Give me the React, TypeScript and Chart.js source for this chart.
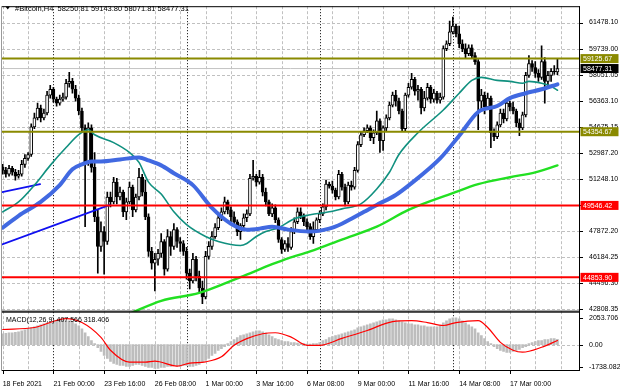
import React, { useEffect, useRef } from 'react';
import { Chart, registerables } from 'chart.js';

Chart.register(...registerables);

// ---------------- DATA ----------------
const symbolName = '#Bitcoin,H4';
const macdName = 'MACD(12,26,9)';

const opens = [
  52031, 51837, 51579, 51966, 51708, 51450, 51579, 52224, 52611, 52869,
  54675, 55256, 55901, 55256, 55578, 56739, 57126, 56481, 56223, 56481,
  56610, 57513, 57642, 57126, 56546, 55707, 54611, 52353, 54611, 52031,
  48806, 46871, 47838, 47193, 50096, 49773, 51063, 50096, 50418, 49128,
  49773, 50741, 49257, 50096, 51386, 50418, 48806, 46548, 45774, 46032,
  46419, 47193, 45387, 47516, 46871, 47967, 47193, 47064, 46548, 45129,
  44613, 46032, 44936, 44162, 43581, 46226, 46871, 47516, 48096, 48741,
  49128, 49773, 49257, 48806, 48483, 47838, 48225, 48741, 48999, 51321,
  51450, 51063, 51386, 50418, 49773, 48999, 49386, 48612, 47322, 46677,
  47064, 46806, 47838, 48483, 49128, 48870, 48483, 48161, 47516, 47967,
  48612, 48999, 49451, 50934, 50805, 50547, 50096, 51579, 50741, 49773,
  50870, 50741, 51837, 53514, 54159, 54417, 54611, 53966, 54288, 55062,
  53772, 54611, 55256, 56094, 56739, 56352, 55707, 54546, 56739, 57255,
  57771, 56997, 57126, 55901, 56546, 57255, 56481, 56868, 56417, 56610,
  59771, 60093, 60867, 61254, 60738, 60093, 59771, 59448, 59835, 59319,
  58932, 56352, 56739, 55965, 56546, 54288, 54030, 54804, 55578, 55191,
  56223, 55965, 55707, 54933, 54611, 55449, 58029, 58803, 58545, 58158,
  57900, 58932, 57642, 58029, 58287, 58250.81,
];
const highs = [
  52224, 52031, 52160, 52095, 51902, 51837, 52482, 52869, 52998, 54869,
  55578, 56223, 56094, 55836, 56997, 57384, 57255, 56610, 56739, 56868,
  57771, 58223, 57836, 57384, 56739, 55901, 54804, 54933, 54804, 52998,
  49257, 48483, 48161, 50418, 50418, 51386, 51321, 50741, 50547, 50031,
  51063, 50870, 50289, 51966, 51579, 51192, 48999, 46806, 46419, 46677,
  47709, 47322, 47967, 47838, 48354, 48096, 47451, 47258, 46806, 45387,
  46419, 46226, 45258, 44613, 46548, 47193, 47838, 48354, 48999, 49386,
  50096, 49902, 49451, 49128, 48612, 48354, 48999, 49257, 51579, 52482,
  51579, 51837, 51579, 50676, 49902, 49644, 49580, 48741, 47451, 47258,
  47451, 48096, 48741, 49386, 49386, 48999, 48677, 48354, 48483, 48741,
  49193, 49644, 51192, 51063, 51128, 50676, 51837, 51708, 50934, 51063,
  51128, 52031, 53708, 54353, 54611, 54804, 54740, 54482, 55707, 55191,
  54740, 55449, 56288, 56933, 57062, 56546, 55836, 56868, 57513, 58158,
  57900, 57384, 57255, 56997, 57513, 57384, 57126, 56997, 56868, 59964,
  60287, 61576, 61835, 61383, 61254, 60351, 60093, 60029, 60029, 59513,
  59061, 57126, 56933, 56868, 56675, 54546, 54998, 55836, 55836, 56481,
  56352, 56288, 55836, 55191, 55643, 58223, 59319, 58997, 58932, 58416,
  59964, 59190, 58287, 58481, 58674, 59143.8,
];
const lows = [
  51579, 51386, 51450, 51515, 51192, 51321, 51450, 52031, 52482, 52740,
  54546, 55127, 54998, 55127, 55449, 56546, 56288, 56030, 56094, 56352,
  56481, 57255, 56868, 56352, 55449, 54417, 48161, 52160, 51708, 48483,
  45129, 46548, 45065, 47000, 49451, 49644, 49644, 49902, 48806, 48612,
  49644, 48806, 49128, 49902, 50160, 48612, 46226, 45387, 43968, 45645,
  46161, 45000, 45258, 46290, 46677, 46806, 46548, 46290, 44742, 44097,
  44484, 44613, 43839, 43130, 43452, 46032, 46677, 47387, 47967, 48548,
  48999, 48999, 48483, 48225, 47580, 47322, 48096, 48483, 48870, 51192,
  50805, 50934, 50160, 49515, 48870, 48806, 48419, 47129, 46419, 46548,
  46548, 46677, 47709, 48354, 48677, 48225, 47967, 47322, 47064, 47838,
  48419, 48870, 49257, 50676, 50354, 49902, 49967, 50547, 49515, 49644,
  50547, 50612, 51708, 53385, 54030, 54288, 53772, 53579, 54159, 52998,
  53127, 54417, 55127, 55965, 56030, 55514, 54353, 54417, 56610, 57126,
  56739, 56417, 55514, 55707, 56417, 56223, 56288, 56223, 56223, 56481,
  59642, 59964, 60738, 60545, 59835, 59577, 59190, 59319, 59190, 58739,
  54482, 55707, 55514, 55836, 53321, 53772, 53901, 54675, 54933, 55062,
  55707, 55514, 54675, 54095, 54482, 55320, 57900, 58287, 57900, 57642,
  57771, 56223, 57255, 57642, 58094, 58071.81,
];
const closes = [
  51837, 51579, 51966, 51708, 51450, 51579, 52224, 52611, 52869, 54675,
  55256, 55901, 55256, 55578, 56739, 57126, 56481, 56223, 56481, 56610,
  57513, 57642, 57126, 56546, 55707, 54611, 52353, 54611, 52031, 48806,
  46871, 47838, 47193, 50096, 49773, 51063, 50096, 50418, 49128, 49773,
  50741, 49257, 50096, 51386, 50418, 48806, 46548, 45774, 46032, 46419,
  47193, 45387, 47516, 46871, 47967, 47193, 47064, 46548, 45129, 44613,
  46032, 44936, 44162, 43581, 46226, 46871, 47516, 48096, 48741, 49128,
  49773, 49257, 48806, 48483, 47838, 48225, 48741, 48999, 51321, 51450,
  51063, 51386, 50418, 49773, 48999, 49386, 48612, 47322, 46677, 47064,
  46806, 47838, 48483, 49128, 48870, 48483, 48161, 47516, 47967, 48612,
  48999, 49451, 50934, 50805, 50547, 50096, 51579, 50741, 49773, 50870,
  50741, 51837, 53514, 54159, 54417, 54611, 53966, 54288, 55062, 53772,
  54611, 55256, 56094, 56739, 56352, 55707, 54546, 56739, 57255, 57771,
  56997, 57126, 55901, 56546, 57255, 56481, 56868, 56417, 56610, 59771,
  60093, 60867, 61254, 60738, 60093, 59771, 59448, 59835, 59319, 58932,
  56352, 56739, 55965, 56546, 54288, 54030, 54804, 55578, 55191, 56223,
  55965, 55707, 54933, 54611, 55449, 58029, 58803, 58545, 58158, 57900,
  58932, 57642, 58029, 58287, 58250.81, 58477.31,
];

// moving averages (bar index -> value)
const maFastBars = [0, 5, 10, 15, 20, 24, 27, 29, 35, 40, 43, 46, 50, 54, 58, 64, 68, 75, 77, 80, 83, 87, 92, 97, 103, 107, 113, 118, 122, 125, 131, 139, 144, 148, 151, 156, 160, 164, 166, 170, 173, 175];
const maFastValues = [49128, 49773, 50870, 52160, 53321, 54159, 54482, 54159, 53643, 52998, 52353, 51063, 50289, 49128, 48290, 47516, 47193, 46935, 47064, 47516, 47838, 48096, 48677, 48934, 49128, 49322, 49644, 50612, 51708, 52869, 54288, 55772, 56868, 57707, 57900, 57707, 57642, 57513, 57642, 57513, 57320, 57062];
const maMidBars = [0, 5, 12, 18, 22, 25, 28, 31, 37, 43, 46, 50, 54, 60, 66, 72, 77, 81, 85, 90, 97, 103, 107, 110, 114, 118, 124, 129, 138, 144, 150, 156, 160, 165, 170, 175];
const maMidValues = [48096, 48870, 49773, 50870, 51902, 52224, 52418, 52418, 52547, 52676, 52482, 52160, 51644, 50870, 49386, 48354, 47967, 48032, 48161, 47967, 47838, 48032, 48354, 48677, 49128, 49580, 50225, 51000, 52611, 54095, 55643, 56030, 56546, 56868, 57126, 57449];
const maSlowBars = [40, 50, 62, 75, 85, 90, 97, 107, 118, 128, 142, 150, 160, 168, 175];
const maSlowValues = [42484, 43323, 43839, 44871, 45710, 46097, 46548, 47322, 48161, 49257, 50354, 50934, 51386, 51708, 52160];

// trend lines
const trendUpperBars = [-0.2, 11.8];
const trendUpperValues = [50418, 50934];
const trendLowerBars = [-0.2, 33.8];
const trendLowerValues = [47000, 49580];

// horizontal levels
const resistanceLevels = [59125.67, 54354.67];
const supportLevels = [49546.42, 44853.9];
const bidPrice = 58477.31;

// MACD
const macdHist = [
  851, 890, 929, 929, 968, 1006, 1084, 1161, 1238, 1316,
  1393, 1471, 1548, 1625, 1703, 1703, 1780, 1858, 1858, 1935,
  1858, 1858, 1780, 1625, 1471, 1238, 929, 619, 310, 77,
  -232, -542, -851, -1084, -1316, -1471, -1548, -1625, -1625, -1703,
  -1703, -1625, -1548, -1548, -1625, -1703, -1780, -1780, -1858, -1858,
  -1780, -1780, -1703, -1703, -1625, -1703, -1703, -1625, -1625, -1703,
  -1703, -1625, -1548, -1393, -1238, -1084, -851, -697, -464, -310,
  -155, 77, 232, 387, 542, 697, 774, 851, 929, 1006,
  1084, 1084, 1006, 929, 774, 619, 464, 387, 310, 232,
  232, 155, 155, 116, 77, 77, 39, 39, 77, 77,
  155, 310, 387, 542, 619, 697, 774, 851, 929, 1006,
  1084, 1161, 1316, 1393, 1471, 1548, 1625, 1703, 1780, 1858,
  1935, 1935, 2012, 2012, 1935, 1858, 1780, 1703, 1625, 1625,
  1548, 1548, 1471, 1471, 1393, 1393, 1393, 1393, 1471, 1703,
  1858, 2012, 2090, 2090, 2012, 1858, 1703, 1548, 1393, 1238,
  929, 697, 464, 232, 77, -155, -310, -464, -542, -619,
  -619, -542, -464, -387, -232, -155, 77, 155, 232, 310,
  310, 387, 387, 464, 464, 407.566,
];
const signalBars = [0, 10, 20, 25, 31, 34, 40, 45, 48, 55, 59, 64, 69, 73, 77, 82, 86, 91, 96, 100, 107, 115, 123, 129, 134, 139, 143, 150, 153, 157, 161, 164, 170, 175];
const signalValues = [1184, 1339, 2036, 1726, 565, -441, -1370, -1370, -1293, -1680, -1447, -1347, -960, -54, 464, 851, 929, 588, -54, -54, 488, 1107, 1803, 1881, 1726, 1494, 1726, 1881, 1339, 178, -441, -596, -209, 318.406];

// axes
const priceTicks = [61478.1, 59739.0, 58051.05, 56363.1, 54675.15, 52987.2, 51248.1, 49560.15, 47872.2, 46184.25, 44496.3, 42808.35];
const macdTicks = [2053.706, 0, -1738.082];
const macdTickLabels = ['2053.706', '0.00', '-1738.082'];
const timeLabels = ['18 Feb 2021', '21 Feb 00:00', '23 Feb 16:00', '26 Feb 08:00', '1 Mar 00:00', '3 Mar 16:00', '6 Mar 08:00', '9 Mar 00:00', '11 Mar 16:00', '14 Mar 08:00', '17 Mar 00:00'];
const labelBars = [0, 16, 32, 48, 64, 80, 96, 112, 128, 144, 160];
const weekSeparatorBars = [16, 58, 100, 142];

const FONT = "'Liberation Sans', Arial, sans-serif";

export default function App() {
  const canvasRef = useRef<HTMLCanvasElement | null>(null);

  useEffect(() => {
    const canvas = canvasRef.current;
    if (!canvas) return;

    const pts = (bars: number[], vals: number[]) => bars.map((b, i) => ({ x: b, y: vals[i] }));
    const lineDs = (data: any[], color: string, width: number, order: number, yAxisID = 'y', smooth = true): any => ({
      type: 'line',
      data,
      borderColor: color,
      backgroundColor: color,
      borderWidth: width,
      pointRadius: 0,
      pointHoverRadius: 0,
      fill: false,
      tension: 0,
      cubicInterpolationMode: smooth ? 'monotone' : 'default',
      borderCapStyle: 'round',
      borderJoinStyle: 'round',
      xAxisID: 'x',
      yAxisID,
      order,
    });
    const levelDs = (v: number, color: string, width: number, order: number) =>
      lineDs([{ x: -5, y: v }, { x: 190, y: v }], color, width, order, 'y', false);

    const n = closes.length;
    const last = n - 1;
    const idx = closes.map((_, i) => i);

    const datasets: any[] = [
      levelDs(resistanceLevels[0], '#8a8a00', 2, 1),
      levelDs(resistanceLevels[1], '#8a8a00', 2, 1),
      levelDs(supportLevels[0], '#ff0000', 2, 1),
      levelDs(supportLevels[1], '#ff0000', 2, 1),
      lineDs(pts(maMidBars, maMidValues), '#4169e1', 4, 2),
      lineDs(pts(maFastBars, maFastValues), '#10907f', 1.6, 3),
      lineDs(pts(maSlowBars, maSlowValues), '#22e022', 2.4, 3),
      lineDs(pts(trendUpperBars, trendUpperValues), '#1010f0', 1.8, 3, 'y', false),
      lineDs(pts(trendLowerBars, trendLowerValues), '#1010f0', 1.8, 3, 'y', false),
      {
        type: 'bar',
        data: idx.map((i) => ({ x: i, y: [opens[i], closes[i]] })),
        backgroundColor: idx.map((i) => (closes[i] >= opens[i] ? '#ffffff' : '#000000')),
        borderColor: '#000000',
        borderWidth: 1,
        borderSkipped: false,
        barThickness: 3,
        grouped: false,
        xAxisID: 'x',
        yAxisID: 'y',
        order: 5,
      },
      {
        type: 'bar',
        data: idx.map((i) => ({ x: i, y: [lows[i], highs[i]] })),
        backgroundColor: '#000000',
        borderWidth: 0,
        barThickness: 1,
        grouped: false,
        xAxisID: 'x',
        yAxisID: 'y',
        order: 6,
      },
      levelDs(bidPrice, '#c4c4c4', 1, 7),
      lineDs(pts(signalBars, signalValues), '#ff0000', 1.2, 1, 'y2'),
      {
        type: 'bar',
        data: idx.map((i) => ({ x: i, y: macdHist[i] })),
        backgroundColor: '#bdbdbd',
        borderWidth: 0,
        barThickness: 2,
        grouped: false,
        xAxisID: 'x',
        yAxisID: 'y2',
        order: 8,
      },
    ];

    const gridBars = Array.from({ length: 23 }, (_, i) => i * 8);

    const overlay = {
      id: 'mt4overlay',
      beforeDatasetsDraw(chart: any) {
        const { ctx, chartArea, scales } = chart;
        const xS = scales.x;
        const yS = scales.y;
        const y2S = scales.y2;
        ctx.save();
        // grid
        ctx.strokeStyle = '#c0c0c0';
        ctx.lineWidth = 1;
        ctx.setLineDash([3, 2]);
        ctx.beginPath();
        for (const t of yS.ticks) {
          const py = Math.round(yS.getPixelForValue(t.value)) + 0.5;
          ctx.moveTo(chartArea.left, py);
          ctx.lineTo(chartArea.right, py);
        }
        {
          const py = Math.round(y2S.getPixelForValue(0)) + 0.5;
          ctx.moveTo(chartArea.left, py);
          ctx.lineTo(chartArea.right, py);
        }
        for (const t of xS.ticks) {
          if (weekSeparatorBars.indexOf(t.value) >= 0) continue;
          const px = Math.round(xS.getPixelForValue(t.value)) + 0.5;
          if (px < chartArea.left || px > chartArea.right) continue;
          ctx.moveTo(px, chartArea.top);
          ctx.lineTo(px, chartArea.bottom);
        }
        ctx.stroke();
        // weekly separators
        ctx.strokeStyle = '#000';
        ctx.setLineDash([1, 2]);
        ctx.beginPath();
        for (const b of weekSeparatorBars) {
          const px = Math.round(xS.getPixelForValue(b)) + 0.5;
          ctx.moveTo(px, chartArea.top);
          ctx.lineTo(px, chartArea.bottom);
        }
        ctx.stroke();
        ctx.restore();
      },
      afterDraw(chart: any) {
        const { ctx, chartArea, scales } = chart;
        const xS = scales.x;
        const yS = scales.y;
        const y2S = scales.y2;
        ctx.save();
        // frames
        ctx.lineWidth = 1;
        ctx.strokeStyle = '#000';
        ctx.beginPath();
        ctx.moveTo(chartArea.left, yS.top + 0.5);
        ctx.lineTo(chartArea.right + 1, yS.top + 0.5);
        ctx.moveTo(chartArea.right + 0.5, yS.top);
        ctx.lineTo(chartArea.right + 0.5, y2S.bottom);
        ctx.moveTo(chartArea.left, yS.bottom - 0.5);
        ctx.lineTo(chartArea.right + 1, yS.bottom - 0.5);
        ctx.moveTo(chartArea.left, yS.bottom + 0.5);
        ctx.lineTo(chartArea.right + 1, yS.bottom + 0.5);
        ctx.moveTo(chartArea.left, y2S.bottom - 0.5);
        ctx.lineTo(chartArea.right + 1, y2S.bottom - 0.5);
        // tick marks
        for (const t of yS.ticks) {
          const py = Math.round(yS.getPixelForValue(t.value)) + 0.5;
          ctx.moveTo(chartArea.right, py);
          ctx.lineTo(chartArea.right + 4, py);
        }
        for (const t of y2S.ticks) {
          const py = Math.round(y2S.getPixelForValue(t.value)) + 0.5;
          ctx.moveTo(chartArea.right, py);
          ctx.lineTo(chartArea.right + 4, py);
        }
        for (const b of labelBars) {
          const px = Math.round(xS.getPixelForValue(b)) + 0.5;
          ctx.moveTo(px, chartArea.bottom);
          ctx.lineTo(px, chartArea.bottom + 3);
        }
        ctx.stroke();
        ctx.strokeStyle = '#9a9a9a';
        ctx.beginPath();
        ctx.moveTo(chartArea.left - 0.5, yS.top);
        ctx.lineTo(chartArea.left - 0.5, y2S.bottom);
        ctx.stroke();

        // title
        ctx.fillStyle = '#000';
        ctx.beginPath();
        ctx.moveTo(5.5, 6.5);
        ctx.lineTo(10, 6.5);
        ctx.lineTo(7.75, 9.5);
        ctx.closePath();
        ctx.fill();
        ctx.font = `7.5px ${FONT}`;
        ctx.textBaseline = 'middle';
        ctx.textAlign = 'left';
        const title = `${symbolName}  ${opens[last].toFixed(2)} ${highs[last].toFixed(2)} ${lows[last].toFixed(2)} ${closes[last].toFixed(2)}`;
        ctx.fillText(title, 15, 8.5);
        ctx.font = `7px ${FONT}`;
        ctx.fillText(`${macdName} ${macdHist[last].toFixed(3)} ${signalValues[signalValues.length - 1].toFixed(3)}`, 6, y2S.top + 8.5);

        // level boxes on the price axis
        const box = (v: number, bg: string, fg: string) => {
          const py = yS.getPixelForValue(v);
          ctx.fillStyle = bg;
          ctx.fillRect(chartArea.right + 1.5, py - 4.5, 38, 9);
          ctx.fillStyle = fg;
          ctx.font = `7px ${FONT}`;
          ctx.textBaseline = 'middle';
          ctx.fillText(v.toFixed(2), chartArea.right + 4, py + 0.5);
        };
        box(resistanceLevels[0], '#8a8a00', '#ffffff');
        box(resistanceLevels[1], '#8a8a00', '#ffffff');
        box(supportLevels[0], '#ff0000', '#ffffff');
        box(supportLevels[1], '#ff0000', '#ffffff');
        box(bidPrice, '#000000', '#ffffff');
        ctx.restore();
      },
    };

    const tickFont = { family: FONT, size: 7 };

    const chart = new Chart(canvas, {
      type: 'bar',
      data: { datasets },
      options: {
        animation: false,
        responsive: false,
        devicePixelRatio: 1,
        events: [],
        layout: { padding: { left: 2, top: 2, right: 0, bottom: 0 } },
        plugins: { legend: { display: false }, tooltip: { enabled: false } },
        scales: {
          x: {
            type: 'linear',
            position: 'bottom',
            min: -0.22,
            max: 181.8,
            offset: false,
            afterBuildTicks: (s: any) => {
              s.ticks = gridBars.map((v) => ({ value: v }));
            },
            afterFit: (s: any) => {
              s.height = 17;
            },
            ticks: {
              autoSkip: false,
              maxRotation: 0,
              minRotation: 0,
              align: 'start',
              padding: 1,
              color: '#000',
              font: tickFont,
              callback: (v: any) => {
                const k = labelBars.indexOf(Number(v));
                return k >= 0 ? timeLabels[k] : '';
              },
            },
            grid: { display: false, offset: false },
            border: { display: false },
          },
          y: {
            type: 'linear',
            position: 'right',
            stack: 'panes',
            stackWeight: 309,
            min: 42614,
            max: 62544,
            afterBuildTicks: (s: any) => {
              s.ticks = priceTicks.map((v) => ({ value: v }));
            },
            afterFit: (s: any) => {
              s.width = 41;
            },
            ticks: {
              autoSkip: false,
              padding: 2,
              color: '#000',
              font: tickFont,
              callback: (v: any) => Number(v).toFixed(2),
            },
            grid: { display: false },
            border: { display: false },
          },
          y2: {
            type: 'linear',
            position: 'right',
            stack: 'panes',
            stackWeight: 60,
            min: -2067,
            max: 2577,
            afterBuildTicks: (s: any) => {
              s.ticks = macdTicks.map((v) => ({ value: v }));
            },
            afterFit: (s: any) => {
              s.width = 41;
            },
            ticks: {
              autoSkip: false,
              padding: 2,
              color: '#000',
              font: tickFont,
              callback: (_v: any, i: number) => macdTickLabels[i],
            },
            grid: { display: false },
            border: { display: false },
          },
        },
      } as any,
      plugins: [overlay],
    });

    return () => {
      chart.destroy();
    };
  }, []);

  return (
    <div style={{ position: 'fixed', left: 0, top: 0, width: 620, height: 388, background: '#ffffff' }}>
      <canvas ref={canvasRef} width={620} height={388} style={{ display: 'block' }} />
    </div>
  );
}
